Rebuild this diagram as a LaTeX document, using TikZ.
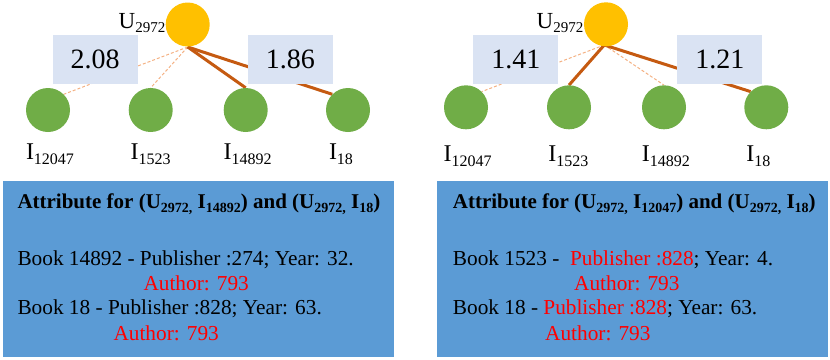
\documentclass[tikz,border=0pt]{standalone}
\usepackage{fontspec}
\setmainfont{Liberation Serif}
\usetikzlibrary{backgrounds}
\definecolor{uyel}{HTML}{FFC000}
\definecolor{igreen}{HTML}{70AD47}
\definecolor{boxblue}{HTML}{DAE3F3}
\definecolor{panel}{HTML}{5B9BD5}
\definecolor{strong}{HTML}{C55A11}
\definecolor{weak}{HTML}{F4B183}
\definecolor{redtxt}{HTML}{FF0000}
\newcommand{\lsb}[1]{\raisebox{-5pt}{\fontsize{16}{16}\selectfont #1}}
\newcommand{\usb}[1]{\raisebox{-4.5pt}{\fontsize{15}{15}\selectfont #1}}
\newcommand{\tsb}[1]{\raisebox{-4pt}{\fontsize{14}{14}\selectfont #1}}
\begin{document}
\begin{tikzpicture}[x=1pt,y=-1pt,
  user/.style={circle, fill=uyel, minimum size=44pt, inner sep=0pt},
  item/.style={circle, fill=igreen, minimum size=44pt, inner sep=0pt},
  score/.style={fill=boxblue, minimum width=85pt, minimum height=49pt, inner sep=0pt, font=\fontsize{28}{28}\selectfont},
  lbl/.style={anchor=base, inner sep=0pt, font=\fontsize{24}{24}\selectfont},
  ulbl/.style={anchor=base east, inner sep=0pt, font=\fontsize{23}{23}\selectfont},
  strongedge/.style={draw=strong, line width=3pt},
  weakedge/.style={draw=weak, line width=1pt, dash pattern=on 3pt off 2pt},
  panelbox/.style={fill=panel, inner sep=0pt, minimum width=391.6pt, minimum height=175.7pt},
  txt/.style={anchor=base west, inner sep=0pt, font=\fontsize{21.3}{21.3}\selectfont},
  ttl/.style={anchor=base west, inner sep=0pt, font=\fontsize{21}{21}\selectfont\bfseries},
  redt/.style={txt, text=redtxt}
]
\useasboundingbox (0,0) rectangle (830,359);

% ---------- left graph ----------
\node[user] (u1) at (187.7,24.5) {};
\node[ulbl] (u1l) at (165.5,28) {U\usb{2972}};
\coordinate (o1) at (187.7,47);
\node[item] (a1) at (48,110) {};
\node[item] (a2) at (150.7,110) {};
\node[item] (a3) at (245.7,110) {};
\node[item] (a4) at (348,110) {};
\node[score] (s1) at (95,59.7) {2.08};
\node[score] (s2) at (290.3,59.7) {1.86};
\node[lbl] (a1l) at (50,159.3) {I\lsb{12047}};
\node[lbl] (a2l) at (150.7,159.3) {I\lsb{1523}};
\node[lbl] (a3l) at (247.7,159.3) {I\lsb{14892}};
\node[lbl] (a4l) at (341,159.3) {I\lsb{18}};

% ---------- right graph ----------
\node[user] (u2) at (606,24.3) {};
\node[ulbl] (u2l) at (583.5,28) {U\usb{2972}};
\coordinate (o2) at (604.3,45);
\node[item] (b1) at (466,107.3) {};
\node[item] (b2) at (569,107.3) {};
\node[item] (b3) at (664,107.3) {};
\node[item] (b4) at (766.3,107.3) {};
\node[score] (s3) at (515.8,59.5) {1.41};
\node[score] (s4) at (719.8,59.5) {1.21};
\node[lbl] (b1l) at (467.5,161) {I\lsb{12047}};
\node[lbl] (b2l) at (568.3,161) {I\lsb{1523}};
\node[lbl] (b3l) at (665.8,161) {I\lsb{14892}};
\node[lbl] (b4l) at (758.3,161) {I\lsb{18}};

\begin{pgfonlayer}{background}
  \draw[weakedge] (o1) -- (a1.45);
  \draw[weakedge] (o1) -- (a2.90);
  \draw[strongedge] (o1) -- (a3.90);
  \draw[strongedge] (o1) -- (a4.135);
  \draw[weakedge] (o2) -- (b1.45);
  \draw[strongedge] (o2) -- (b2.90);
  \draw[weakedge] (o2) -- (b3.90);
  \draw[strongedge] (o2) -- (b4.135);
\end{pgfonlayer}

% ---------- left panel ----------
\node[panelbox] (p1) at (198.5,268.85) {};
\node[ttl] (t1) at (17.3,208.3) {Attribute for (U\tsb{2972,} I\tsb{14892}) and (U\tsb{2972,} I\tsb{18})};
\node[txt] (l1) at (17.3,265) {Book 14892 - Publisher :274; Year: 32.};
\node[redt] (l2) at (143.3,290) {Author: 793};
\node[txt] (l3) at (17.3,314.3) {Book 18 - Publisher :828; Year: 63.};
\node[redt] (l4) at (113.3,340.7) {Author: 793};

% ---------- right panel ----------
\node[panelbox] (p2) at (632.5,268.85) {};
\node[ttl] (t2) at (452.7,208.3) {Attribute for (U\tsb{2972,} I\tsb{12047}) and (U\tsb{2972,} I\tsb{18})};
\node[txt] (r1) at (452.7,265) {Book 1523 -~~\textcolor{redtxt}{Publisher :828}; Year: 4.};
\node[redt] (r2) at (574,290) {Author: 793};
\node[txt] (r3) at (452.7,314.3) {Book 18 - \textcolor{redtxt}{Publisher :828}; Year: 63.};
\node[redt] (r4) at (545,340.7) {Author: 793};
\end{tikzpicture}
\end{document}
